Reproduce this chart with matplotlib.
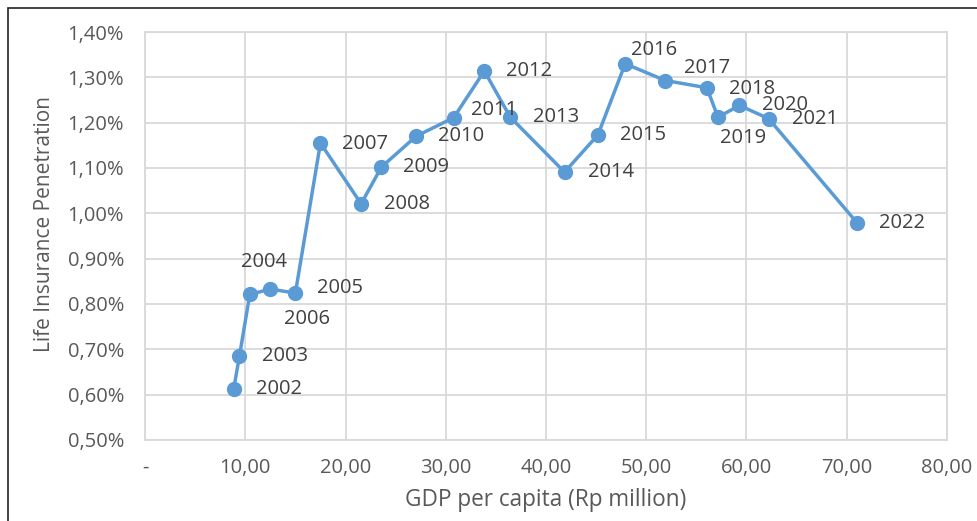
import matplotlib
matplotlib.use("Agg")
import matplotlib.pyplot as plt
from matplotlib.patches import Rectangle
from matplotlib.ticker import FuncFormatter, MultipleLocator

plt.rcParams['font.family'] = ['Open Sans', 'DejaVu Sans']

# GDP per capita (Rp million) vs life insurance penetration (%)
years = [2002, 2003, 2004, 2005, 2006, 2007, 2008, 2009, 2010, 2011, 2012,
         2013, 2014, 2015, 2016, 2017, 2018, 2019, 2020, 2021, 2022]
gdp = [8.85, 9.42, 10.45, 12.51, 15.00, 17.50, 21.56, 23.58, 27.04, 30.79, 33.85,
       36.44, 41.85, 45.18, 47.90, 51.90, 56.05, 57.15, 59.30, 62.20, 71.07]
penetration = [0.613, 0.685, 0.821, 0.833, 0.824, 1.155, 1.021, 1.102, 1.170, 1.211, 1.314,
               1.212, 1.091, 1.173, 1.330, 1.293, 1.277, 1.212, 1.238, 1.209, 0.978]

# label offsets in pixels (dx right, dy up), left-aligned text
label_dx = [22, 23, -9, 47, -11, 22, 23, 22, 22, 17, 22, 23, 23, 22, 6, 19, 22, 2, 23, 23, 22]
label_dy = [0, 0, 32, 1, -26, -1, 0, 0, 0, 8, 0, 0, 0, 0, 14, 13, -1, -21, 0, 0, 0]

W, H = 977, 521
fig = plt.figure(figsize=(W / 100, H / 100), dpi=100)
ax = fig.add_axes([145 / W, 1 - 440 / H, 802 / W, 408 / H])

blue = '#5B9BD5'
grid_c = '#D9D9D9'
tick_c = '#595959'
lab_c = '#404040'

ax.plot(gdp, penetration, color=blue, lw=2.5, marker='o', markersize=10, zorder=3)

for yr, x, y, dx, dy in zip(years, gdp, penetration, label_dx, label_dy):
    ax.annotate(str(yr), (x, y), xytext=(dx, dy), textcoords='offset pixels',
                ha='left', va='center', fontsize=14.5, color=lab_c, zorder=4)

ax.set_xlim(0, 80)
ax.set_ylim(0.5, 1.4)
ax.xaxis.set_major_locator(MultipleLocator(10))
ax.yaxis.set_major_locator(MultipleLocator(0.1))
ax.xaxis.set_major_formatter(FuncFormatter(
    lambda v, p: '-' if abs(v) < 1e-9 else f'{v:.2f}'.replace('.', ',')))
ax.yaxis.set_major_formatter(FuncFormatter(
    lambda v, p: f'{v:.2f}%'.replace('.', ',')))

ax.grid(True, color=grid_c, lw=1.3)
ax.set_axisbelow(True)
for s in ax.spines.values():
    s.set_color(grid_c)
    s.set_linewidth(1.3)
ax.tick_params(length=0, labelsize=14.5, labelcolor=tick_c)
ax.tick_params(axis='x', pad=13)
ax.tick_params(axis='y', pad=15)

fig.text(546 / W, 1 - 500 / H, 'GDP per capita (Rp million)', ha='center', va='center',
         fontsize=16.3, color=tick_c)
fig.text(45 / W, 1 - 224 / H, 'Life Insurance Penetration', ha='center', va='center',
         rotation=90, fontsize=15, color=tick_c)

# outer frame (clipped at right and bottom like the screenshot)
fig.patches.append(Rectangle((8 / W, -0.05), 1.1, 1 - 8 / H + 0.05,
                             transform=fig.transFigure, fill=False,
                             edgecolor='#222222', lw=1.2))

fig.savefig('out.png', dpi=100, facecolor='white')
